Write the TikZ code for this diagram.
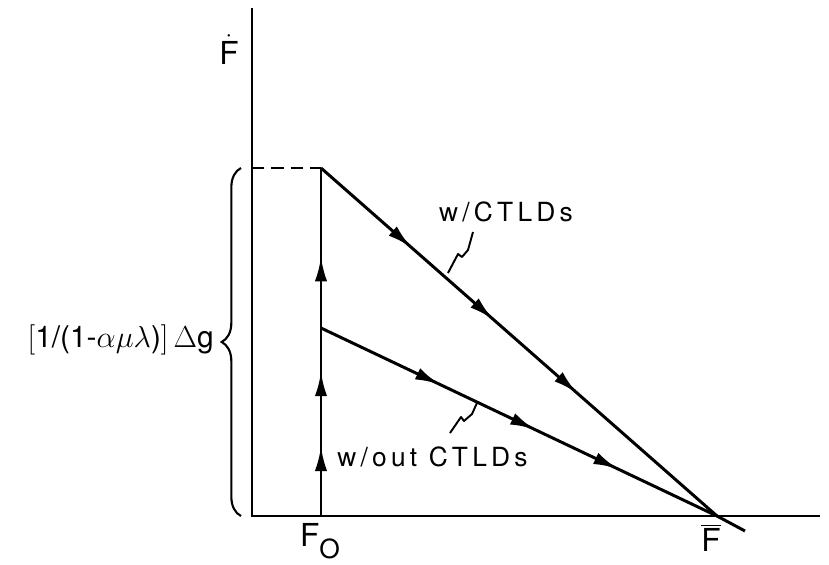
\documentclass[tikz,border=0pt]{standalone}
\usepackage{fontspec}
\setmainfont{TeX Gyre Heros}
\usetikzlibrary{arrows.meta,decorations.markings,decorations.pathreplacing}

\begin{document}
\begin{tikzpicture}[
  x=0.02cm, y=-0.02cm,
  axis/.style   = {line width=1.7pt},
  path/.style   = {line width=1.7pt},
  guide/.style  = {line width=1.7pt, dashed, dash pattern=on 7pt off 4pt},
  leader/.style = {line width=1.1pt, line join=round},
  lbl/.style    = {font=\fontsize{15}{18}\selectfont\addfontfeature{LetterSpace=16}, inner sep=0pt},
  axlbl/.style  = {font=\fontsize{18}{20}\selectfont, inner sep=0pt},
  flowmarks/.style n args = {3}{postaction={decorate},
    decoration={markings,
      mark=at position #1 with {\arrow{Latex[length=14pt,width=7pt]}},
      mark=at position #2 with {\arrow{Latex[length=14pt,width=7pt]}},
      mark=at position #3 with {\arrow{Latex[length=14pt,width=7pt]}}}},
]
\useasboundingbox (0,0) rectangle (829,565);

% ---------- axes ----------
\coordinate (O)    at (252,516);
\coordinate (ytop) at (252,8);
\coordinate (xend) at (820,516);
\draw[axis] (ytop) -- (O) -- (xend);

\node[axlbl] (fdot) at (229,50) {$\dot{\mbox{F}}$};

% ---------- points ----------
\coordinate (F0)   at (321,516);
\coordinate (peak) at (321,168);
\coordinate (kink) at (321,328);
\coordinate (Fbar) at (717,516);
\coordinate (tail) at (745,531);
\coordinate (dtop) at (252,168);

% ---------- trajectories ----------
\draw[guide] (dtop) -- (peak);
\draw[path, flowmarks={0.2}{0.415}{0.745}] (F0) -- (peak);
\draw[path, flowmarks={0.215}{0.41}{0.61}] (peak) -- (Fbar) -- (tail);
\draw[path, flowmarks={0.3}{0.54}{0.75}] (kink) -- (Fbar);

% ---------- labels ----------
\node[lbl] (with) at (506,212) {w/CTLDs};
\draw[leader] (473,232) -- (468,250) -- (462,257) -- (458,254) -- (448,273);

\node[lbl, anchor=west] (without) at (337,457) {w/out CTLDs};
\draw[leader] (477,403) -- (472,414) -- (464,421) -- (461,417) -- (450,433);

\node[axlbl] (f0) at (320,541) {F\raisebox{-0.75ex}{\fontsize{15}{16}\selectfont O}};
\node[axlbl] (fb) at (711,538) {$\overline{\mbox{F}}$};

% ---------- brace ----------
\draw[line width=1.2pt, decorate, decoration={brace, amplitude=11pt}]
  (241,516) -- (241,168);
\node[font=\fontsize{17}{20}\selectfont, anchor=east, inner sep=0pt] (gain) at (214,340)
  {$\Bigl[$1/(1-$\alpha\mu\lambda$)$\Bigr]$$\,\Delta$g};

\end{tikzpicture}
\end{document}
